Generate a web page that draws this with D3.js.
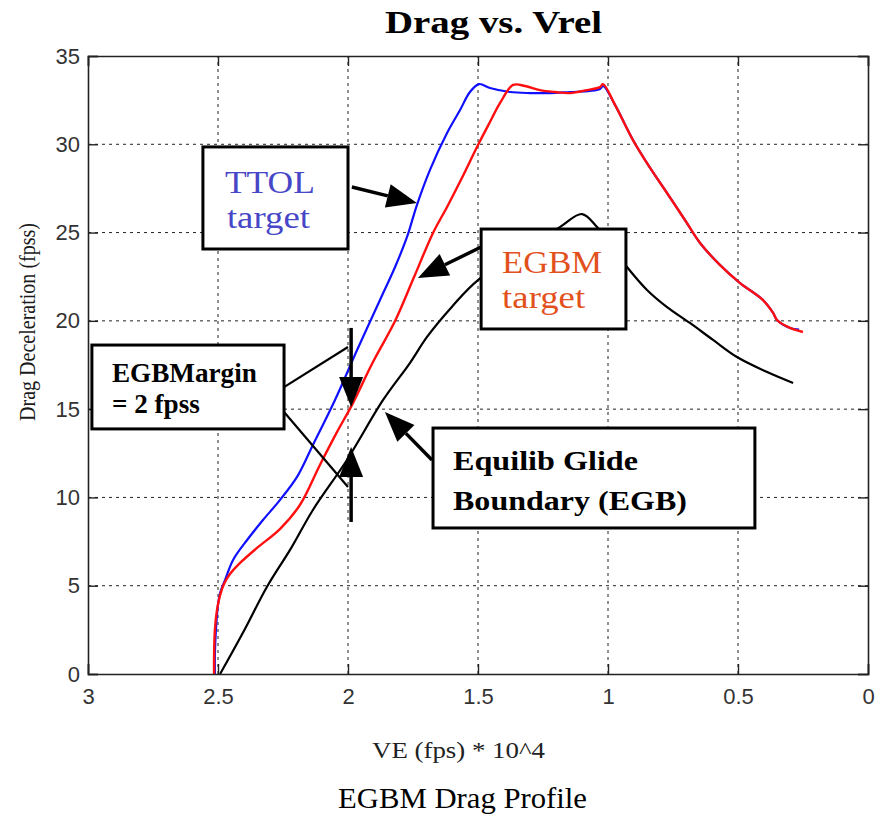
<!DOCTYPE html>
<html><head><meta charset="utf-8">
<script src="https://cdn.jsdelivr.net/npm/d3@7"></script>
<style>body{margin:0;background:#fff;} svg{display:block;}</style>
</head><body><svg id="c" width="875" height="814"></svg>
<script>
// ---------- data ----------
const xTicks = [3, 2.5, 2, 1.5, 1, 0.5, 0];
const yTicks = [0, 5, 10, 15, 20, 25, 30, 35];

const ttolVE   = [2.512,2.512,2.508,2.500,2.492,2.473,2.442,2.388,2.327,2.262,2.196,2.135,2.050,1.965,1.877,1.819,1.773,1.735,1.685,1.619,1.569,1.531,1.496,1.454,1.377,1.300,1.223,1.146,1.069,1.031,1.019,0.973,0.904,0.838,0.773,0.704,0.646,0.569,0.492,0.404,0.365,0.350,0.300,0.265];
const ttolDrag = [0.00,1.08,2.49,3.91,4.59,5.32,6.46,7.59,8.72,9.85,11.16,12.97,15.52,18.35,21.18,23.05,24.75,26.56,28.54,30.64,31.94,32.96,33.41,33.19,32.96,32.90,32.90,32.96,33.02,33.13,33.30,32.23,30.24,28.66,27.24,25.71,24.41,23.16,22.14,21.18,20.45,20.05,19.60,19.50];

const egbmVE   = [2.515,2.515,2.512,2.504,2.492,2.477,2.454,2.415,2.350,2.262,2.185,2.108,2.042,1.985,1.904,1.819,1.746,1.673,1.619,1.562,1.500,1.454,1.415,1.365,1.319,1.262,1.204,1.146,1.081,1.031,1.019,0.973,0.904,0.838,0.773,0.704,0.646,0.569,0.492,0.404,0.365,0.350,0.300,0.250];
const egbmDrag = [0.00,1.08,2.49,3.62,4.47,5.10,5.66,6.29,7.14,8.21,9.57,11.84,13.71,15.23,17.67,19.99,22.48,24.98,26.45,28.09,29.96,31.26,32.34,33.36,33.30,33.07,32.96,32.90,33.07,33.24,33.41,32.23,30.24,28.66,27.24,25.71,24.41,23.16,22.14,21.18,20.45,20.05,19.60,19.37];

const egbVE   = [2.492,2.400,2.312,2.220,2.135,2.004,1.865,1.762,1.696,1.600,1.500,1.185,1.100,1.042,0.927,0.850,0.773,0.685,0.596,0.504,0.388,0.288];
const egbDrag = [0.00,2.45,4.93,7.10,9.29,12.12,15.52,17.61,19.09,20.80,22.31,25.31,26.05,25.31,23.05,21.75,20.78,19.88,18.92,17.95,17.10,16.48];

// ---------- layout ----------
const svg = d3.select("#c");
const x = d3.scaleLinear().domain([3, 0]).range([88, 868]);
const y = d3.scaleLinear().domain([0, 35]).range([674, 56]);
const serif = "'Liberation Serif','Times New Roman',serif";
const sans = "'Liberation Sans',Arial,sans-serif";

// grid
const g = svg.append("g");
g.selectAll(".gx").data(xTicks.filter(d => d > 0 && d < 3)).enter().append("line")
  .attr("x1", d => x(d)).attr("x2", d => x(d)).attr("y1", y(0)).attr("y2", y(35))
  .attr("stroke", "#222").attr("stroke-width", 1).attr("stroke-dasharray", "3,4");
g.selectAll(".gy").data(yTicks.filter(d => d > 0 && d < 35)).enter().append("line")
  .attr("x1", x(3)).attr("x2", x(0)).attr("y1", d => y(d)).attr("y2", d => y(d))
  .attr("stroke", "#222").attr("stroke-width", 1).attr("stroke-dasharray", "3,4");

// curves
const line = d3.line().x(d => x(d[0])).y(d => y(d[1])).curve(d3.curveCatmullRom.alpha(0.5));
const zip = (a, b) => a.map((v, i) => [v, b[i]]);
svg.append("path").datum(zip(egbVE, egbDrag)).attr("d", line)
  .attr("fill", "none").attr("stroke", "#000").attr("stroke-width", 2.2);
svg.append("path").datum(zip(ttolVE, ttolDrag)).attr("d", line)
  .attr("fill", "none").attr("stroke", "#1010ff").attr("stroke-width", 2.2);
svg.append("path").datum(zip(egbmVE, egbmDrag)).attr("d", line)
  .attr("fill", "none").attr("stroke", "#ff0f0f").attr("stroke-width", 2.4);

// axes
const fmt = d3.format("");
const xb = svg.append("g").attr("transform", `translate(0,${y(0)})`)
  .call(d3.axisBottom(x).tickValues(xTicks).tickSize(-10).tickPadding(14).tickFormat(fmt));
const xt = svg.append("g").attr("transform", `translate(0,${y(35)})`)
  .call(d3.axisTop(x).tickValues(xTicks).tickSize(-10).tickFormat(""));
const yl = svg.append("g").attr("transform", `translate(${x(3)},0)`)
  .call(d3.axisLeft(y).tickValues(yTicks).tickSize(-10).tickPadding(8).tickFormat(fmt));
const yr = svg.append("g").attr("transform", `translate(${x(0)},0)`)
  .call(d3.axisRight(y).tickValues(yTicks).tickSize(-10).tickFormat(""));
[xb, xt, yl, yr].forEach(a => {
  a.select(".domain").attr("stroke", "#222").attr("stroke-width", 1.6);
  a.selectAll(".tick line").attr("stroke", "#222").attr("stroke-width", 1.4);
  a.selectAll("text").attr("font-family", sans).attr("font-size", 22).attr("fill", "#333");
});
xb.selectAll("text").attr("dy", "0.71em");

// axis labels and titles
svg.append("text").attr("x", 385).attr("y", 33).attr("font-family", serif)
  .attr("font-weight", "bold").attr("font-size", 32).attr("textLength", 217)
  .attr("lengthAdjust", "spacingAndGlyphs").text("Drag vs. Vrel");
svg.append("text").attr("x", 372).attr("y", 758).attr("font-family", serif)
  .attr("font-size", 24).attr("fill", "#222").attr("textLength", 173)
  .attr("lengthAdjust", "spacingAndGlyphs").text("VE (fps) * 10^4");
svg.append("text").attr("transform", "translate(35,421) rotate(-90)")
  .attr("font-family", serif).attr("font-size", 23).attr("fill", "#1a1a1a")
  .attr("textLength", 198).attr("lengthAdjust", "spacingAndGlyphs")
  .text("Drag Deceleration (fpss)");
svg.append("text").attr("x", 338).attr("y", 808).attr("font-family", serif)
  .attr("font-size", 30).attr("textLength", 249).attr("lengthAdjust", "spacingAndGlyphs")
  .text("EGBM Drag Profile");

// ---------- annotations (anchored in data units) ----------
const leaders = [
  [[2.246, 16.25], [2.0, 18.52]],
  [[2.246, 14.84], [2.0, 10.59]]
];
const arrows = [
  [[1.985, 27.58], [1.735, 26.67]],
  [[1.488, 24.18], [1.731, 22.43]],
  [[1.988, 19.60], [1.988, 15.12]],
  [[1.988, 8.61], [1.988, 12.86]],
  [[1.677, 12.12], [1.858, 14.84]]
];
const boxes = [
  {x0: 2.558, x1: 2.0, y0: 29.85, y1: 24.07, color: "#4646c6", bold: false, size: 32,
   lines: [{t: "TTOL", dx: 22, dy: 46, len: 90}, {t: "target", dx: 24, dy: 81, len: 83}]},
  {x0: 1.488, x1: 0.931, y0: 25.2, y1: 19.54, color: "#e2501c", bold: false, size: 32,
   lines: [{t: "EGBM", dx: 21, dy: 44, len: 100}, {t: "target", dx: 21, dy: 79, len: 83}]},
  {x0: 2.985, x1: 2.246, y0: 18.63, y1: 13.88, color: "#000", bold: true, size: 27,
   lines: [{t: "EGBMargin", dx: 20, dy: 37, len: 145}, {t: "= 2 fpss", dx: 20, dy: 68, len: 88}]},
  {x0: 1.673, x1: 0.435, y0: 13.93, y1: 8.27, color: "#000", bold: true, size: 27,
   lines: [{t: "Equilib Glide", dx: 20, dy: 42, len: 185}, {t: "Boundary (EGB)", dx: 20, dy: 82, len: 234}]}
];

const ann = svg.append("g");
leaders.forEach(l => ann.append("line")
  .attr("x1", x(l[0][0])).attr("y1", y(l[0][1])).attr("x2", x(l[1][0])).attr("y2", y(l[1][1]))
  .attr("stroke", "#000").attr("stroke-width", 2.2));
const headLen = 30, headHalf = 12;
arrows.forEach(a => {
  const x1 = x(a[0][0]), y1 = y(a[0][1]), x2 = x(a[1][0]), y2 = y(a[1][1]);
  const dx = x2 - x1, dy = y2 - y1, L = Math.hypot(dx, dy), ux = dx / L, uy = dy / L;
  const bx = x2 - ux * headLen, by = y2 - uy * headLen;
  ann.append("line").attr("x1", x1).attr("y1", y1).attr("x2", bx).attr("y2", by)
    .attr("stroke", "#000").attr("stroke-width", 3.5);
  ann.append("path").attr("d", `M${x2},${y2}L${bx - uy * headHalf},${by + ux * headHalf}L${bx + uy * headHalf},${by - ux * headHalf}Z`)
    .attr("fill", "#000");
});
boxes.forEach(b => {
  const bx = x(b.x0), by = y(b.y0);
  ann.append("rect").attr("x", bx).attr("y", by).attr("width", x(b.x1) - bx).attr("height", y(b.y1) - by)
    .attr("fill", "#fff").attr("stroke", "#000").attr("stroke-width", 3);
  b.lines.forEach(l => ann.append("text").attr("x", bx + l.dx).attr("y", by + l.dy)
    .attr("font-family", serif).attr("font-size", b.size).attr("font-weight", b.bold ? "bold" : "normal")
    .attr("fill", b.color).attr("textLength", l.len).attr("lengthAdjust", "spacingAndGlyphs").text(l.t));
});
</script>
</body></html>
